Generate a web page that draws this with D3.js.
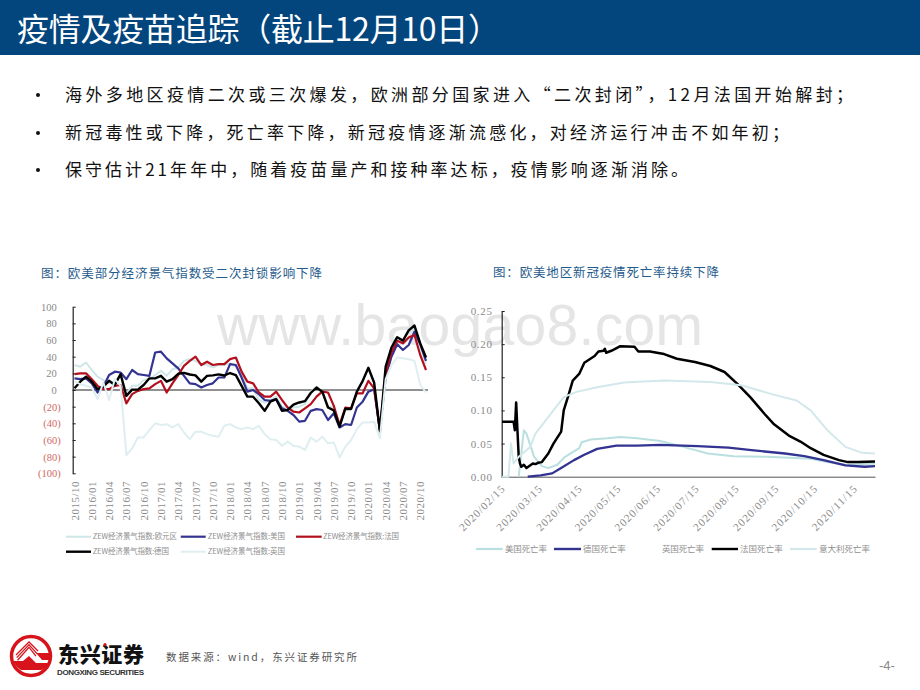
<!DOCTYPE html>
<html>
<head>
<meta charset="utf-8">
<script src="https://cdnjs.cloudflare.com/ajax/libs/d3/7.8.5/d3.min.js"></script>
<style>
  body { margin: 0; background: #fff; }
  text { font-family: "Noto Sans CJK SC", sans-serif; }
  .num text, text.num { font-family: "Liberation Serif", serif; }
</style>
</head>
<body>
<svg id="page" width="920" height="690"></svg>
<script>
// left chart, monthly
var months = ["2015/10","2015/11","2015/12","2016/01","2016/02","2016/03","2016/04","2016/05","2016/06","2016/07","2016/08","2016/09",
  "2016/10","2016/11","2016/12","2017/01","2017/02","2017/03","2017/04","2017/05","2017/06","2017/07","2017/08","2017/09",
  "2017/10","2017/11","2017/12","2018/01","2018/02","2018/03","2018/04","2018/05","2018/06","2018/07","2018/08","2018/09",
  "2018/10","2018/11","2018/12","2019/01","2019/02","2019/03","2019/04","2019/05","2019/06","2019/07","2019/08","2019/09",
  "2019/10","2019/11","2019/12","2020/01","2020/02","2020/03","2020/04","2020/05","2020/06","2020/07","2020/08","2020/09",
  "2020/10","2020/11"];
var zewEuro = [30,28,33,24,16,12,8,10,19,-5,5,5,12,13,18,23,17,25,27,35,37,35,31,30,27,30,30,32,28,20,2,2,-12,-15,-12,-8,-20,-22,-21,-20,-17,-2,4,-2,-20,-20,-43,-22,-23,-1,11,26,10,-49,25,46,59,59,73,73,52,32];
var zewUS = [14,13,14,8,-3,4,18,22,21,13,24,19,18,17,45,46,38,32,26,17,8,7,3,6,8,15,15,31,30,15,-2,0,-5,-12,-13,-11,-22,-25,-30,-38,-37,-25,-23,-24,-36,-28,-45,-41,-42,-21,-14,-2,1,-48,15,40,55,48,54,70,55,35];
var zewFrance = [19,20,20,13,5,1,1,5,6,-16,-5,-1,1,2,7,11,-3,8,18,29,35,40,30,34,30,31,31,37,39,22,10,8,-3,-8,-8,-2,-12,-21,-26,-27,-22,-17,-8,-2,-3,-19,-42,-21,-22,-4,-4,11,2,-48,20,45,59,56,63,66,42,24];
var zewGermany = [2,10,16,10,1,4,11,6,19,-7,0.5,0.5,6,14,14,17,10,13,19.5,20.6,18.6,17.5,10,17,17.6,18.7,17.4,20.4,17.8,5,-8,-8,-16,-25,-14,-11,-25,-24,-17.5,-15,-13.4,-3.6,3,-2,-21,-24.5,-44,-22.5,-22.8,-2,10.7,26.7,8.7,-49.5,28,51,63.4,59.3,71.5,77.4,56,39];
var zewUK = [10,7,5,3,-11,9,-12,13,5,-78,-70,-57,-57,-48,-40,-42,-41,-45,-41,-51,-59,-50,-50,-53,-55,-56,-43,-41,-45,-47,-45,-47,-43,-53,-59,-60,-67,-62,-67,-68,-72,-57,-62,-56,-64,-63,-81,-68,-60,-47,-39,-39,-38,-58,13,30,39,38,37,35,6,-3];
var leftTicks = [100,80,60,40,20,0,-20,-40,-60,-80,-100];

// right chart, date + rate pairs
var franceDates = ["02/15","02/24","02/25","02/26","02/27","02/28","02/29","03/01","03/03","03/05","03/10","03/12","03/14","03/17","03/22","03/26","04/01","04/03","04/07","04/10","04/15","04/19","04/27","04/30","05/04","05/05","05/06","05/10","05/17","05/28","05/31","06/09","06/20","06/30","07/14","07/26","08/06","08/16","08/26","09/06","09/13","09/25","10/04","10/12","10/22","11/03","11/10","11/18","12/01"];
var franceRate = [0.083,0.083,0.07,0.112,0.07,0.03,0.02,0.015,0.018,0.013,0.02,0.019,0.021,0.022,0.035,0.05,0.068,0.10,0.125,0.145,0.155,0.172,0.182,0.189,0.19,0.193,0.187,0.19,0.197,0.196,0.189,0.189,0.185,0.178,0.173,0.167,0.158,0.14,0.12,0.095,0.08,0.062,0.053,0.043,0.033,0.025,0.022,0.022,0.023];
var italyDates = ["02/15","02/20","02/22","02/24","02/28","03/08","03/12","03/18","03/26","04/03","04/13","04/29","05/20","06/20","07/26","08/19","09/11","10/01","10/12","10/25","11/08","11/21","12/01"];
var italyRate = [0,0,0.05,0.02,0.03,0.045,0.065,0.08,0.10,0.12,0.128,0.135,0.142,0.145,0.143,0.138,0.125,0.115,0.10,0.07,0.045,0.036,0.035];
var usDates = ["02/28","03/03","03/05","03/11","03/17","03/22","03/29","04/04","04/15","04/17","04/24","05/07","05/17","05/30","06/17","07/05","07/24","08/13","09/08","10/12","10/25","11/08","12/01"];
var usRate = [0,0.07,0.065,0.03,0.016,0.013,0.018,0.03,0.043,0.052,0.056,0.058,0.06,0.058,0.054,0.045,0.035,0.031,0.03,0.027,0.022,0.018,0.02];
var germanyDates = ["03/06","03/16","03/25","03/31","04/11","04/19","04/29","05/14","05/30","06/17","07/16","08/09","08/27","09/22","10/07","10/22","11/08","11/23","12/01"];
var germanyRate = [0,0.002,0.005,0.012,0.025,0.033,0.042,0.047,0.047,0.048,0.046,0.044,0.04,0.035,0.031,0.025,0.017,0.015,0.016];
var rightTicks = [0,0.05,0.10,0.15,0.20,0.25];
var rightLabelDates = ["02/15","03/15","04/15","05/15","06/15","07/15","08/15","09/15","10/15","11/15"];

var bullets = [
  "海外多地区疫情二次或三次爆发，欧洲部分国家进入“二次封闭”，12月法国开始解封；",
  "新冠毒性或下降，死亡率下降，新冠疫情逐渐流感化，对经济运行冲击不如年初；",
  "保守估计21年年中，随着疫苗量产和接种率达标，疫情影响逐渐消除。"
];

var euroCol = "#cfe6e8", usCol = "#b9dfe0", navy = "#333391", red = "#b3101f", ukCol = "#dfeef0", italyCol = "#d3e8ea";

var svg = d3.select("#page");

// header
svg.append("rect").attr("width", 920).attr("height", 55).attr("fill", "#03457d");
svg.append("text").attr("x", 17).attr("y", 41).attr("fill", "#fff").attr("font-size", 32)
  .attr("textLength", 483).text("疫情及疫苗追踪（截止12月10日）");

// bullets
var bulletY = [101, 139, 176];
var bulletEnd = [853, 789, 688];
bullets.forEach(function(t, i) {
  svg.append("circle").attr("cx", 38).attr("cy", bulletY[i] - 6).attr("r", 2).attr("fill", "#111");
  svg.append("text").attr("x", 65).attr("y", bulletY[i]).attr("font-size", 17).attr("fill", "#111")
    .attr("textLength", bulletEnd[i] - 65).text(t);
});

// watermark sits under the charts
svg.append("text").attr("x", 217).attr("y", 345).attr("font-size", 57).attr("fill", "#e5e5e5")
  .style("font-family", "'Liberation Sans', sans-serif").attr("textLength", 486).text("www.baogao8.com");

// chart titles
function chartTitle(t, x, x2, y) {
  svg.append("text").attr("x", x).attr("y", y).attr("font-size", 12.5).attr("fill", "#1f5b8c")
    .attr("textLength", x2 - x).text(t);
}
chartTitle("图：欧美部分经济景气指数受二次封锁影响下降", 41, 322, 278);
chartTitle("图：欧美地区新冠疫情死亡率持续下降", 493, 719, 277);

// LEFT CHART
var xL = d3.scalePoint().domain(months).range([74.5, 426]);
var yL = d3.scaleLinear().domain([-100, 100]).range([473.3, 306.7]);

var axL = svg.append("g").attr("class", "num").attr("transform", "translate(72.7,0)")
  .call(d3.axisLeft(yL).tickValues(leftTicks).tickSizeInner(-3).tickSizeOuter(0).tickPadding(16)
    .tickFormat(function(d) { return d < 0 ? "(" + (-d) + ")" : d; }));
axL.select(".domain").attr("stroke", "#222").attr("stroke-width", 1.2);
axL.selectAll(".tick line").attr("stroke", "#222");
axL.selectAll(".tick text").attr("font-size", 10.5)
  .attr("dx", function(d) { return d < 0 ? 4 : 0; })
  .attr("fill", function(d) { return d < 0 ? "#d0695f" : "#8a8a8a"; });

var axLb = svg.append("g").attr("class", "num").attr("transform", "translate(0,478)")
  .call(d3.axisBottom(xL).tickValues(months.filter(function(m, i) { return i % 3 == 0 && i < 61; })).tickSize(0));
axLb.select(".domain").remove();
axLb.selectAll(".tick text").attr("font-size", 11).attr("fill", "#8a8a8a")
  .attr("text-anchor", "end").attr("transform", "translate(0,3) rotate(-90)")
  .attr("x", 0).attr("y", 0).attr("dy", "0.32em").attr("letter-spacing", 0.5);

svg.append("line").attr("x1", 72.7).attr("x2", 428).attr("y1", yL(0)).attr("y2", yL(0))
  .attr("stroke", "#222").attr("stroke-width", 1);

var lineL = d3.line().x(function(d, i) { return xL(months[i]); }).y(function(d) { return yL(d); });
function drawL(vals, col, w) {
  svg.append("path").datum(vals).attr("d", lineL).attr("fill", "none").attr("stroke", col).attr("stroke-width", w).attr("stroke-linejoin", "round");
}
drawL(zewEuro, euroCol, 2);
drawL(zewUS, navy, 2.2);
drawL(zewFrance, red, 2.2);
drawL(zewGermany, "#000", 2.4);
drawL(zewUK, ukCol, 2);

function legendItem(x1, x2, tx, tx2, y, col, w, label) {
  svg.append("line").attr("x1", x1).attr("x2", x2).attr("y1", y).attr("y2", y).attr("stroke", col).attr("stroke-width", w);
  svg.append("text").attr("x", tx).attr("y", y + 2.7).attr("font-size", 7.5).attr("fill", "#8f8f8f")
    .attr("textLength", tx2 - tx).text(label);
}
legendItem(66, 91, 92.7, 177, 536.7, euroCol, 2, "ZEW经济景气指数:欧元区");
legendItem(180.7, 205.7, 207.7, 285, 536.7, navy, 2.2, "ZEW经济景气指数:美国");
legendItem(296, 321.7, 323, 399, 536.7, red, 2.2, "ZEW经济景气指数:法国");
legendItem(66, 91, 92.7, 169, 551.7, "#000", 2.4, "ZEW经济景气指数:德国");
legendItem(180.7, 205.7, 207.7, 285, 551.7, ukCol, 2, "ZEW经济景气指数:英国");

// RIGHT CHART
var parseDay = d3.timeParse("%Y/%m/%d");
function day(s) { return parseDay("2020/" + s); }
var xR = d3.scaleTime().domain([day("02/15"), day("12/01")]).range([502, 875]);
var yR = d3.scaleLinear().domain([0, 0.25]).range([476.7, 311]);

var axR = svg.append("g").attr("class", "num").attr("transform", "translate(501.7,0)")
  .call(d3.axisLeft(yR).tickValues(rightTicks).tickSizeInner(-3).tickSizeOuter(0).tickPadding(9).tickFormat(d3.format(".2f")));
axR.select(".domain").attr("stroke", "#222").attr("stroke-width", 1.2);
axR.selectAll(".tick line").attr("stroke", "#222");
axR.selectAll(".tick text").attr("font-size", 11).attr("fill", "#8a8a8a").attr("letter-spacing", 0.7);

var axRb = svg.append("g").attr("class", "num").attr("transform", "translate(0,476.7)")
  .call(d3.axisBottom(xR).tickValues(rightLabelDates.map(day)).tickSize(0).tickFormat(d3.timeFormat("%Y/%m/%d")));
axRb.select(".domain").attr("stroke", "#555").attr("stroke-width", 1);
axRb.selectAll(".tick text").attr("font-size", 11).attr("fill", "#8a8a8a").attr("letter-spacing", 1)
  .attr("text-anchor", "end").attr("x", 0).attr("y", 0).attr("dy", "0.32em")
  .attr("transform", "translate(1,10) rotate(-45)");

function drawR(dates, vals, col, w) {
  var line = d3.line().x(function(d, i) { return xR(day(dates[i])); }).y(function(d) { return yR(d); });
  svg.append("path").datum(vals).attr("d", line).attr("fill", "none").attr("stroke", col).attr("stroke-width", w).attr("stroke-linejoin", "round");
}
drawR(usDates, usRate, usCol, 2);
drawR(germanyDates, germanyRate, navy, 2.3);
drawR(franceDates, franceRate, "#000", 2.5);
drawR(italyDates, italyRate, italyCol, 2);

function legendR(x1, x2, tx, tx2, col, w, label) {
  var y = 549;
  if (col) svg.append("line").attr("x1", x1).attr("x2", x2).attr("y1", y).attr("y2", y).attr("stroke", col).attr("stroke-width", w);
  svg.append("text").attr("x", tx).attr("y", y + 3).attr("font-size", 8.5).attr("fill", "#8f8f8f")
    .attr("textLength", tx2 - tx).text(label);
}
legendR(476, 502.7, 505, 547, usCol, 2.2, "美国死亡率");
legendR(554, 581, 583, 625.7, navy, 2.4, "德国死亡率");
legendR(635, 660, 662, 704, null, 0, "英国死亡率");
legendR(711.7, 738, 740, 782.7, "#000", 2.4, "法国死亡率");
legendR(790, 816.7, 819, 870, italyCol, 2.2, "意大利死亡率");

// logo
var logoRed = "#d7141c";
var logo = svg.append("g").attr("transform", "translate(31,656)");
logo.append("circle").attr("r", 19.5).attr("fill", "#fff").attr("stroke", logoRed).attr("stroke-width", 3.5);
[0, 2.6, 5.2].forEach(function(o) {
  logo.append("path").attr("d", "M" + (-15 + o * 0.3) + "," + (-1 + o) + " L-2," + (-14 + o) + " L" + (7 - o * 0.4) + "," + (-5 + o))
    .attr("fill", "none").attr("stroke", logoRed).attr("stroke-width", 1.3);
});
logo.append("path").attr("d", "M5,-3 L19,-3 L18,4 L11,4 Z").attr("fill", logoRed);
logo.append("path").attr("d", "M-18,5 L-8,5 L-2,0 L5,7 L18,7 Q13,14 10,14 L-10,14 Q-15,11 -18,5 Z").attr("fill", logoRed);
svg.append("text").attr("x", 58).attr("y", 662).attr("font-size", 21).attr("font-weight", 900).attr("fill", "#111")
  .attr("textLength", 86).text("东兴证券");
svg.append("circle").attr("cx", 105).attr("cy", 644.5).attr("r", 1.6).attr("fill", logoRed);
svg.append("text").attr("x", 57).attr("y", 675).attr("font-size", 8).attr("font-weight", 700).attr("fill", "#333")
  .style("font-family", "'Liberation Sans', sans-serif").attr("textLength", 87).text("DONGXING SECURITIES");

// footer
svg.append("text").attr("x", 166).attr("y", 661).attr("font-size", 10.5).attr("fill", "#555")
  .attr("textLength", 191).text("数据来源：wind，东兴证券研究所");
svg.append("text").attr("x", 879).attr("y", 670).attr("font-size", 13).attr("fill", "#888")
  .style("font-family", "'Liberation Sans', sans-serif").text("-4-");
</script>
</body>
</html>
